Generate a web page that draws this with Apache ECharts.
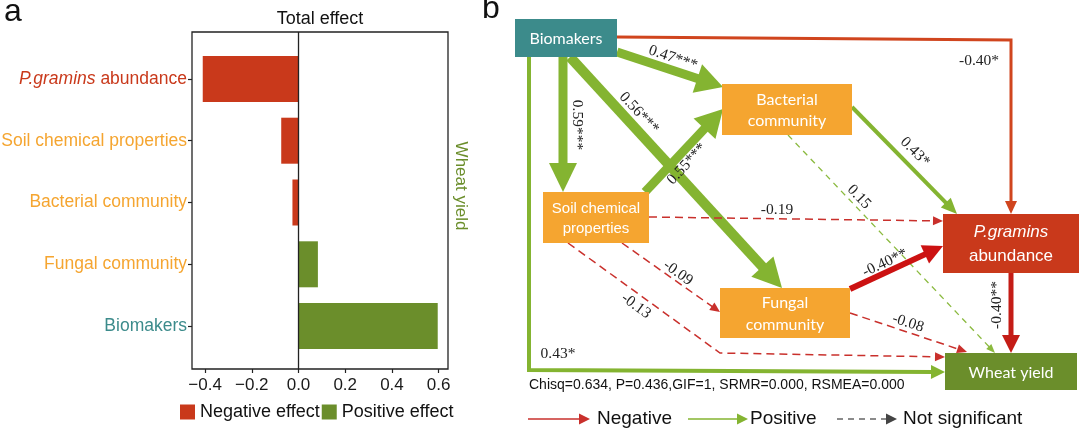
<!DOCTYPE html>
<html><head><meta charset="utf-8">
<script src="https://cdn.jsdelivr.net/npm/echarts@6.0.0/dist/echarts.min.js"></script>
<style>html,body{margin:0;padding:0;background:#fff}#c{width:1080px;height:429px}</style>
</head><body><div id="c"></div>
<script>
// ---------- Panel a data ----------
const categories = ['P.gramins abundance', 'Soil chemical properties', 'Bacterial community', 'Fungal community', 'Biomakers'];
const totalEffect = [-0.41, -0.074, -0.026, 0.083, 0.596];
const effectTicks = [-0.4, -0.2, 0.0, 0.2, 0.4, 0.6];
const legendNames = ['Negative effect', 'Positive effect'];

// ---------- Panel b data ----------
const nodeNames = ['Biomakers', 'Bacterial community', 'Soil chemical properties', 'Fungal community', 'P.gramins abundance', 'Wheat yield'];
const pathFrom = ['Biomakers', 'Biomakers', 'Biomakers', 'Biomakers', 'Soil chemical properties', 'Bacterial community', 'Bacterial community', 'Soil chemical properties', 'Soil chemical properties', 'Soil chemical properties', 'Fungal community', 'Fungal community', 'P.gramins abundance', 'Biomakers'];
const pathTo = ['P.gramins abundance', 'Bacterial community', 'Soil chemical properties', 'Fungal community', 'Bacterial community', 'P.gramins abundance', 'Wheat yield', 'P.gramins abundance', 'Fungal community', 'Wheat yield', 'P.gramins abundance', 'Wheat yield', 'Wheat yield', 'Wheat yield'];
const pathCoef = [-0.40, 0.47, 0.59, 0.56, 0.55, 0.43, 0.15, -0.19, -0.09, -0.13, -0.40, -0.08, -0.40, 0.43];
const pathSig = ['*', '***', '***', '***', '***', '*', '', '', '', '', '**', '', '**', '*'];
const fitStats = 'Chisq=0.634, P=0.436,GIF=1, SRMR=0.000, RSMEA=0.000';
const keyNames = ['Negative', 'Positive', 'Not significant'];

// ---------- Layout / style (diagram units) ----------
const RED = '#C9391B', GREEN = '#6B8E2B', ORANGE = '#F5A530', TEAL = '#3C8B8B';
const nodeBox = {
  'Biomakers': [515, 19, 617, 57],
  'Bacterial community': [722, 84, 852, 135],
  'Soil chemical properties': [543, 192, 649, 243],
  'Fungal community': [720, 288, 850, 338],
  'P.gramins abundance': [943, 214, 1079, 273],
  'Wheat yield': [945, 353, 1077, 390]
};
const nodeFill = {
  'Biomakers': TEAL, 'Bacterial community': ORANGE, 'Soil chemical properties': ORANGE,
  'Fungal community': ORANGE, 'P.gramins abundance': RED, 'Wheat yield': GREEN
};
const nodeText = {
  'Biomakers': { t: 'Biomakers', f: 'Lato', s: 16 },
  'Bacterial community': { t: 'Bacterial\ncommunity', f: 'Lato', s: 16 },
  'Soil chemical properties': { t: 'Soil chemical\nproperties', f: 'Liberation Sans', s: 15 },
  'Fungal community': { t: 'Fungal\ncommunity', f: 'Lato', s: 16 },
  'P.gramins abundance': { t: '{i|P.gramins}\n{n|abundance}', f: 'Liberation Sans', s: 17 },
  'Wheat yield': { t: 'Wheat yield', f: 'Lato', s: 16 }
};
const G = '#84B431', GD = '#8BBA3F', RD = '#C9302C';
const pathRoute = [
  [[617, 37], [1011, 40], [1011, 214]],
  [[617, 52], [723, 87]],
  [[563, 57], [563, 192]],
  [[570, 57], [782, 288]],
  [[645, 192], [723, 109]],
  [[852, 107], [957, 214]],
  [[788, 135], [995, 353]],
  [[649, 217], [943, 221]],
  [[622, 243], [720, 312]],
  [[568, 243], [720, 353], [945, 357]],
  [[850, 289], [943, 246]],
  [[850, 313], [967, 352]],
  [[1011, 273], [1011, 353]],
  [[529, 57], [529, 370], [945, 372]]
];
const pathStyle = [
  { c: '#D0451E', w: 3, d: null, h: [13, 12] },
  { c: G, w: 9, d: null, h: [27, 30] },
  { c: G, w: 9, d: null, h: [29, 28] },
  { c: G, w: 10, d: null, h: [29, 30] },
  { c: G, w: 9, d: null, h: [27, 30] },
  { c: G, w: 4, d: null, h: [16, 14] },
  { c: GD, w: 1.3, d: [6, 5], h: [9, 7] },
  { c: RD, w: 1.5, d: [8, 5], h: [10, 9] },
  { c: RD, w: 1.5, d: [8, 5], h: [10, 9] },
  { c: RD, w: 1.5, d: [8, 5], h: [10, 9] },
  { c: '#CC1212', w: 6, d: null, h: [20, 20] },
  { c: RD, w: 1.5, d: [8, 5], h: [10, 9] },
  { c: '#C41C16', w: 5, d: null, h: [18, 18] },
  { c: G, w: 4, d: null, h: [14, 14] }
];
// label centre and clockwise angle (deg)
const labelPos = [
  [979, 61, 0], [673, 58, 19], [577, 125, 90], [639, 113, 47], [687, 164, -47],
  [915, 152, 45], [859, 197, 46], [777, 210, 0], [678, 273, 35], [636, 306, 36],
  [885, 263, -25], [908, 323, 18], [997, 305, -90], [558, 354, 0]
];
const keyLayout = [
  { x0: 528, x1: 590, c: '#C9302C', d: null, tx: 597 },
  { x0: 688, x1: 748, c: G, d: null, tx: 750 },
  { x0: 837, x1: 897, c: '#666', d: [6, 5], hc: '#444', tx: 903 }
];

function fmtTick(v) { return (v < 0 ? '\u2212' : '') + Math.abs(v).toFixed(1); }
function fmtCoef(v) { return (v < 0 ? '-' : '') + Math.abs(v).toFixed(2); }

function arrow(pts, st, coordFn) {
  const p = pts.map(coordFn);
  const n = p.length, a = p[n - 2], b = p[n - 1];
  const dx = b[0] - a[0], dy = b[1] - a[1], L = Math.hypot(dx, dy);
  const ux = dx / L, uy = dy / L;
  const hl = st.h[0], hw = st.h[1] / 2;
  const base = [b[0] - ux * hl, b[1] - uy * hl];
  const shaftEnd = [b[0] - ux * hl * 0.85, b[1] - uy * hl * 0.85];
  const linePts = p.slice(0, n - 1).concat([shaftEnd]);
  return [
    { type: 'polyline', shape: { points: linePts }, style: { stroke: st.c, lineWidth: st.w, lineDash: st.d || null, fill: null, lineJoin: 'miter' } },
    { type: 'polygon', shape: { points: [b, [base[0] - uy * hw, base[1] + ux * hw], [base[0] + uy * hw, base[1] - ux * hw]] }, style: { fill: st.hc || st.c } }
  ];
}

const chart = echarts.init(document.getElementById('c'), null, { renderer: 'canvas' });

const labelColor = ['', 'o', 'o', 'o', 't'];
const LF = 17.5;
const option = {
  backgroundColor: '#fff',
  animation: false,
  textStyle: { fontFamily: 'Liberation Sans' },
  grid: [
    { left: 192, width: 256, top: 48, height: 309, containLabel: false, outerBoundsMode: 'none' },
    { left: 192, width: 256, top: 32, height: 337, containLabel: false, outerBoundsMode: 'none', show: true, borderColor: '#222', borderWidth: 1.3, backgroundColor: 'transparent', z: 3 },
    { left: 0, width: 1080, top: 0, height: 429, containLabel: false, outerBoundsMode: 'none' }
  ],
  xAxis: [
    { gridIndex: 0, type: 'value', min: -0.456, max: 0.64, show: false },
    { gridIndex: 1, type: 'value', min: -0.456, max: 0.64, splitLine: { show: false }, axisLine: { show: false },
      axisTick: { show: true, length: 4, lineStyle: { color: '#222', width: 1.2 }, customValues: effectTicks },
      axisLabel: { customValues: effectTicks, formatter: fmtTick, fontSize: 17, color: '#1a1a1a', margin: 8, fontFamily: 'Liberation Sans' } },
    { gridIndex: 2, type: 'value', min: 0, max: 1080, show: false }
  ],
  yAxis: [
    { gridIndex: 0, type: 'category', data: categories, inverse: true, position: 'left',
      axisLine: { show: false, onZero: false },
      axisTick: { show: true, alignWithLabel: true, length: 4, lineStyle: { color: '#222', width: 1.2 } },
      axisLabel: { margin: 5, fontSize: LF, fontFamily: 'Liberation Sans', interval: 0,
        formatter: (v, i) => i === 0 ? '{pi|P.gramins}{pn| abundance}' : '{' + labelColor[i] + '|' + v + '}',
        rich: {
          pi: { fontStyle: 'italic', color: RED, fontSize: LF, fontFamily: 'Liberation Sans' },
          pn: { color: RED, fontSize: LF, fontFamily: 'Liberation Sans' },
          o: { color: ORANGE, fontSize: LF, fontFamily: 'Liberation Sans' },
          t: { color: TEAL, fontSize: LF, fontFamily: 'Liberation Sans' }
        } } },
    { gridIndex: 1, type: 'value', min: 0, max: 1, show: false },
    { gridIndex: 2, type: 'value', min: 0, max: 429, inverse: true, show: false }
  ],
  legend: {
    data: legendNames, left: 180, top: 403, orient: 'horizontal', icon: 'rect', itemWidth: 15, itemHeight: 15,
    itemGap: 2, padding: 0, textStyle: { fontSize: 18, color: '#111', fontFamily: 'Liberation Sans' }, selectedMode: false
  },
  series: [
    { name: 'Negative effect', type: 'bar', xAxisIndex: 0, yAxisIndex: 0, barWidth: 46, barGap: '-100%',
      data: totalEffect.map(v => v < 0 ? v : '-'), itemStyle: { color: RED } },
    { name: 'Positive effect', type: 'bar', xAxisIndex: 0, yAxisIndex: 0, barWidth: 46, barGap: '-100%',
      data: totalEffect.map(v => v >= 0 ? v : '-'), itemStyle: { color: GREEN } },
    { name: 'zero', type: 'line', xAxisIndex: 1, yAxisIndex: 1, data: [[0, 0], [0, 1]], symbol: 'none',
      lineStyle: { color: '#222', width: 1.3 }, z: 4, silent: true },
    // panel b edges
    { name: 'paths', type: 'custom', xAxisIndex: 2, yAxisIndex: 2, clip: false, z: 2,
      data: pathCoef.map((c, i) => [i, c]),
      renderItem: (params, api) => {
        const i = params.dataIndex;
        return { type: 'group', children: arrow(pathRoute[i], pathStyle[i], p => api.coord(p)) };
      } },
    // panel b nodes
    { name: 'nodes', type: 'custom', xAxisIndex: 2, yAxisIndex: 2, clip: false, z: 3,
      data: nodeNames.map((n, i) => [i, 0]),
      renderItem: (params, api) => {
        const name = nodeNames[params.dataIndex];
        const b = nodeBox[name];
        const p0 = api.coord([b[0], b[1]]), p1 = api.coord([b[2], b[3]]);
        const nt = nodeText[name];
        return { type: 'group', children: [
          { type: 'rect', shape: { x: p0[0], y: p0[1], width: p1[0] - p0[0], height: p1[1] - p0[1] }, style: { fill: nodeFill[name] } },
          { type: 'text', x: (p0[0] + p1[0]) / 2, y: (p0[1] + p1[1]) / 2 + 1,
            style: { text: nt.t, fill: '#fff', align: 'center', verticalAlign: 'middle', fontFamily: nt.f, fontSize: nt.s, lineHeight: nt.s * 1.35,
              rich: { i: { fontStyle: 'italic', fill: '#fff', fontSize: 17, fontFamily: 'Liberation Sans', lineHeight: 24 }, n: { fill: '#fff', fontSize: 17, fontFamily: 'Liberation Sans', lineHeight: 24 } } } }
        ] };
      } },
    // panel b coefficient labels
    { name: 'coefs', type: 'custom', xAxisIndex: 2, yAxisIndex: 2, clip: false, z: 4,
      data: pathCoef.map((c, i) => [i, c]),
      renderItem: (params, api) => {
        const i = params.dataIndex;
        const lp = labelPos[i];
        const p = api.coord([lp[0], lp[1]]);
        return { type: 'text', x: p[0], y: p[1], rotation: -lp[2] * Math.PI / 180,
          style: { text: fmtCoef(pathCoef[i]) + pathSig[i], fill: '#222', align: 'center', verticalAlign: 'middle', fontFamily: 'Liberation Serif', fontSize: 15.5 } };
      } },
    // panel b key
    { name: 'key', type: 'custom', xAxisIndex: 2, yAxisIndex: 2, clip: false, z: 4,
      data: keyNames.map((k, i) => [i, 0]),
      renderItem: (params, api) => {
        const i = params.dataIndex, k = keyLayout[i];
        const ch = arrow([[k.x0, 419], [k.x1, 419]], { c: k.c, w: 1.5, d: k.d, hc: k.hc, h: [11, 11] }, p => api.coord(p));
        const tp = api.coord([k.tx, 419]);
        ch.push({ type: 'text', x: tp[0], y: tp[1], style: { text: keyNames[i], fill: '#111', align: 'left', verticalAlign: 'middle', fontFamily: 'Liberation Sans', fontSize: 19 } });
        return { type: 'group', children: ch };
      } }
  ],
  graphic: [
    { type: 'text', left: 4, top: -4, style: { text: 'a', fontSize: 32, fontFamily: 'Liberation Sans', fill: '#111' } },
    { type: 'text', left: 482, top: -7, style: { text: 'b', fontSize: 32, fontFamily: 'Liberation Sans', fill: '#111' } },
    { type: 'text', x: 320, y: 19, style: { text: 'Total effect', fontSize: 18, fontFamily: 'Liberation Sans', fill: '#111', align: 'center', verticalAlign: 'middle' } },
    { type: 'text', x: 461, y: 186, rotation: -Math.PI / 2, style: { text: 'Wheat yield', fontSize: 17, fontFamily: 'Liberation Sans', fill: GREEN, align: 'center', verticalAlign: 'middle' } },
    { type: 'text', x: 529, y: 385, style: { text: fitStats, fontSize: 14, fontFamily: 'Liberation Sans', fill: '#111', align: 'left', verticalAlign: 'middle' } }
  ]
};
chart.setOption(option);
</script>
</body></html>
